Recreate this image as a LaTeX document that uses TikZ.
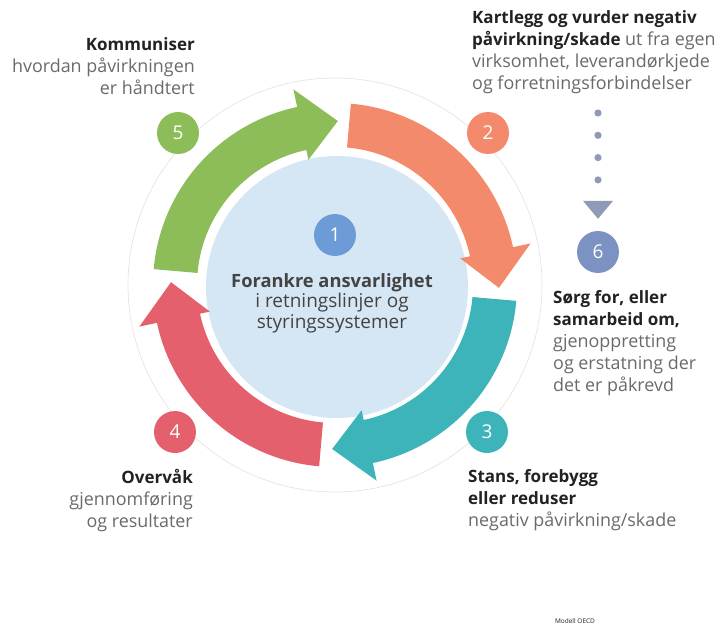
\documentclass[tikz,border=0pt]{standalone}
\usepackage{fontspec}
\setmainfont{Open Sans}
\usetikzlibrary{calc}

\newcommand{\boldPart}[1]{\textcolor{darkText}{\fontsize{17}{22}\selectfont\bfseries #1}}

\begin{document}
\begin{tikzpicture}[x=1pt, y=1pt,
    numDot/.style={circle, minimum size=42pt, inner sep=0pt, text=white, font=\fontsize{19}{19}\selectfont},
    stepText/.style={inner sep=0pt, text=greyText, font=\fontsize{17.9}{22}\selectfont}]
    \def\bandIn{138}
    \def\bandOut{182}

    \definecolor{darkText}{HTML}{222222}
    \definecolor{greyText}{HTML}{6A6A6A}
    \definecolor{ringColour}{HTML}{E4E4E4}
    \definecolor{coreColour}{HTML}{D5E7F5}
    \definecolor{greenColour}{HTML}{8CBD58}
    \definecolor{orangeColour}{HTML}{F38A6C}
    \definecolor{tealColour}{HTML}{3CB4BA}
    \definecolor{redColour}{HTML}{E3606C}
    \definecolor{blueColour}{HTML}{6C9BD6}
    \definecolor{slateColour}{HTML}{7C92C2}
    \definecolor{dotColour}{HTML}{8F9BB6}

    % Curved arrow: colour, angle of the tail
    \def\cycleArrow#1#2{%
        \fill[#1] (#2:\bandIn) arc[start angle=#2, end angle=#2-73, radius=\bandIn]
            -- (#2-73:128) -- (#2-86:164) -- (#2-73:200) -- (#2-73:\bandOut)
            arc[start angle=#2-73, end angle=#2, radius=\bandOut] -- cycle;}

    \useasboundingbox (-335,-342) rectangle (391,285);

    % Thin ring and centre disc
    \draw[ringColour, line width=0.7pt] (0,0) circle (207);
    \fill[coreColour] (2,-2) circle (131);

    % Four arrows of the cycle
    \cycleArrow{greenColour}{175}
    \cycleArrow{orangeColour}{85}
    \cycleArrow{tealColour}{-5}
    \cycleArrow{redColour}{-95}

    % Numbered dots
    \node[numDot, fill=blueColour] (n1) at (0,50) {1};
    \node[numDot, fill=orangeColour] (n2) at (153,152) {2};
    \node[numDot, fill=tealColour] (n3) at (152,-147) {3};
    \node[numDot, fill=redColour] (n4) at (-160,-147) {4};
    \node[numDot, fill=greenColour] (n5) at (-157,152) {5};
    \node[numDot, fill=slateColour] (n6) at (263,33) {6};

    % Texts
    \node[stepText, anchor=north, align=center, text=darkText!85, font=\fontsize{19}{20.5}\selectfont] (t1) at (-3,12)
        {{\bfseries\fontsize{18.3}{20.5}\selectfont Forankre ansvarlighet}\\i retningslinjer og\\styringssystemer};
    \node[stepText, anchor=north west, align=left] (t2) at (137,275)
        {\boldPart{Kartlegg og vurder negativ}\\\boldPart{påvirkning/skade} ut fra egen\\virksomhet, leverandørkjede\\og forretningsforbindelser};
    \node[stepText, anchor=north west, align=left] (t3) at (133,-184)
        {\boldPart{Stans, forebygg}\\\boldPart{eller reduser}\\negativ påvirkning/skade};
    \node[stepText, anchor=north east, align=right] (t4) at (-142,-184)
        {\boldPart{Overvåk}\\gjennomføring\\og resultater};
    \node[stepText, anchor=north east, align=right] (t5) at (-140,248)
        {\boldPart{Kommuniser}\\hvordan påvirkningen\\er håndtert};
    \node[stepText, anchor=north west, align=left] (t6) at (218,-5)
        {\boldPart{Sørg for, eller}\\\boldPart{samarbeid om,}\\gjenoppretting\\og erstatning der\\det er påkrevd};
    \node[text=darkText, font=\fontsize{6.5}{7}\selectfont] (credit) at (240,-336) {Modell OECD};

    % Dotted lead to step 6
    \coordinate (dotTop) at (n6 |- 0,172);
    \foreach \k in {0,...,3}
        \fill[dotColour] ($(dotTop)+(0,-22.3*\k)$) circle (3.6);
    \fill[dotColour] ($(n6.north)+(-15,30)$) -- ++(30,0) -- ($(n6.north)+(0,12)$) -- cycle;

\end{tikzpicture}
\end{document}
